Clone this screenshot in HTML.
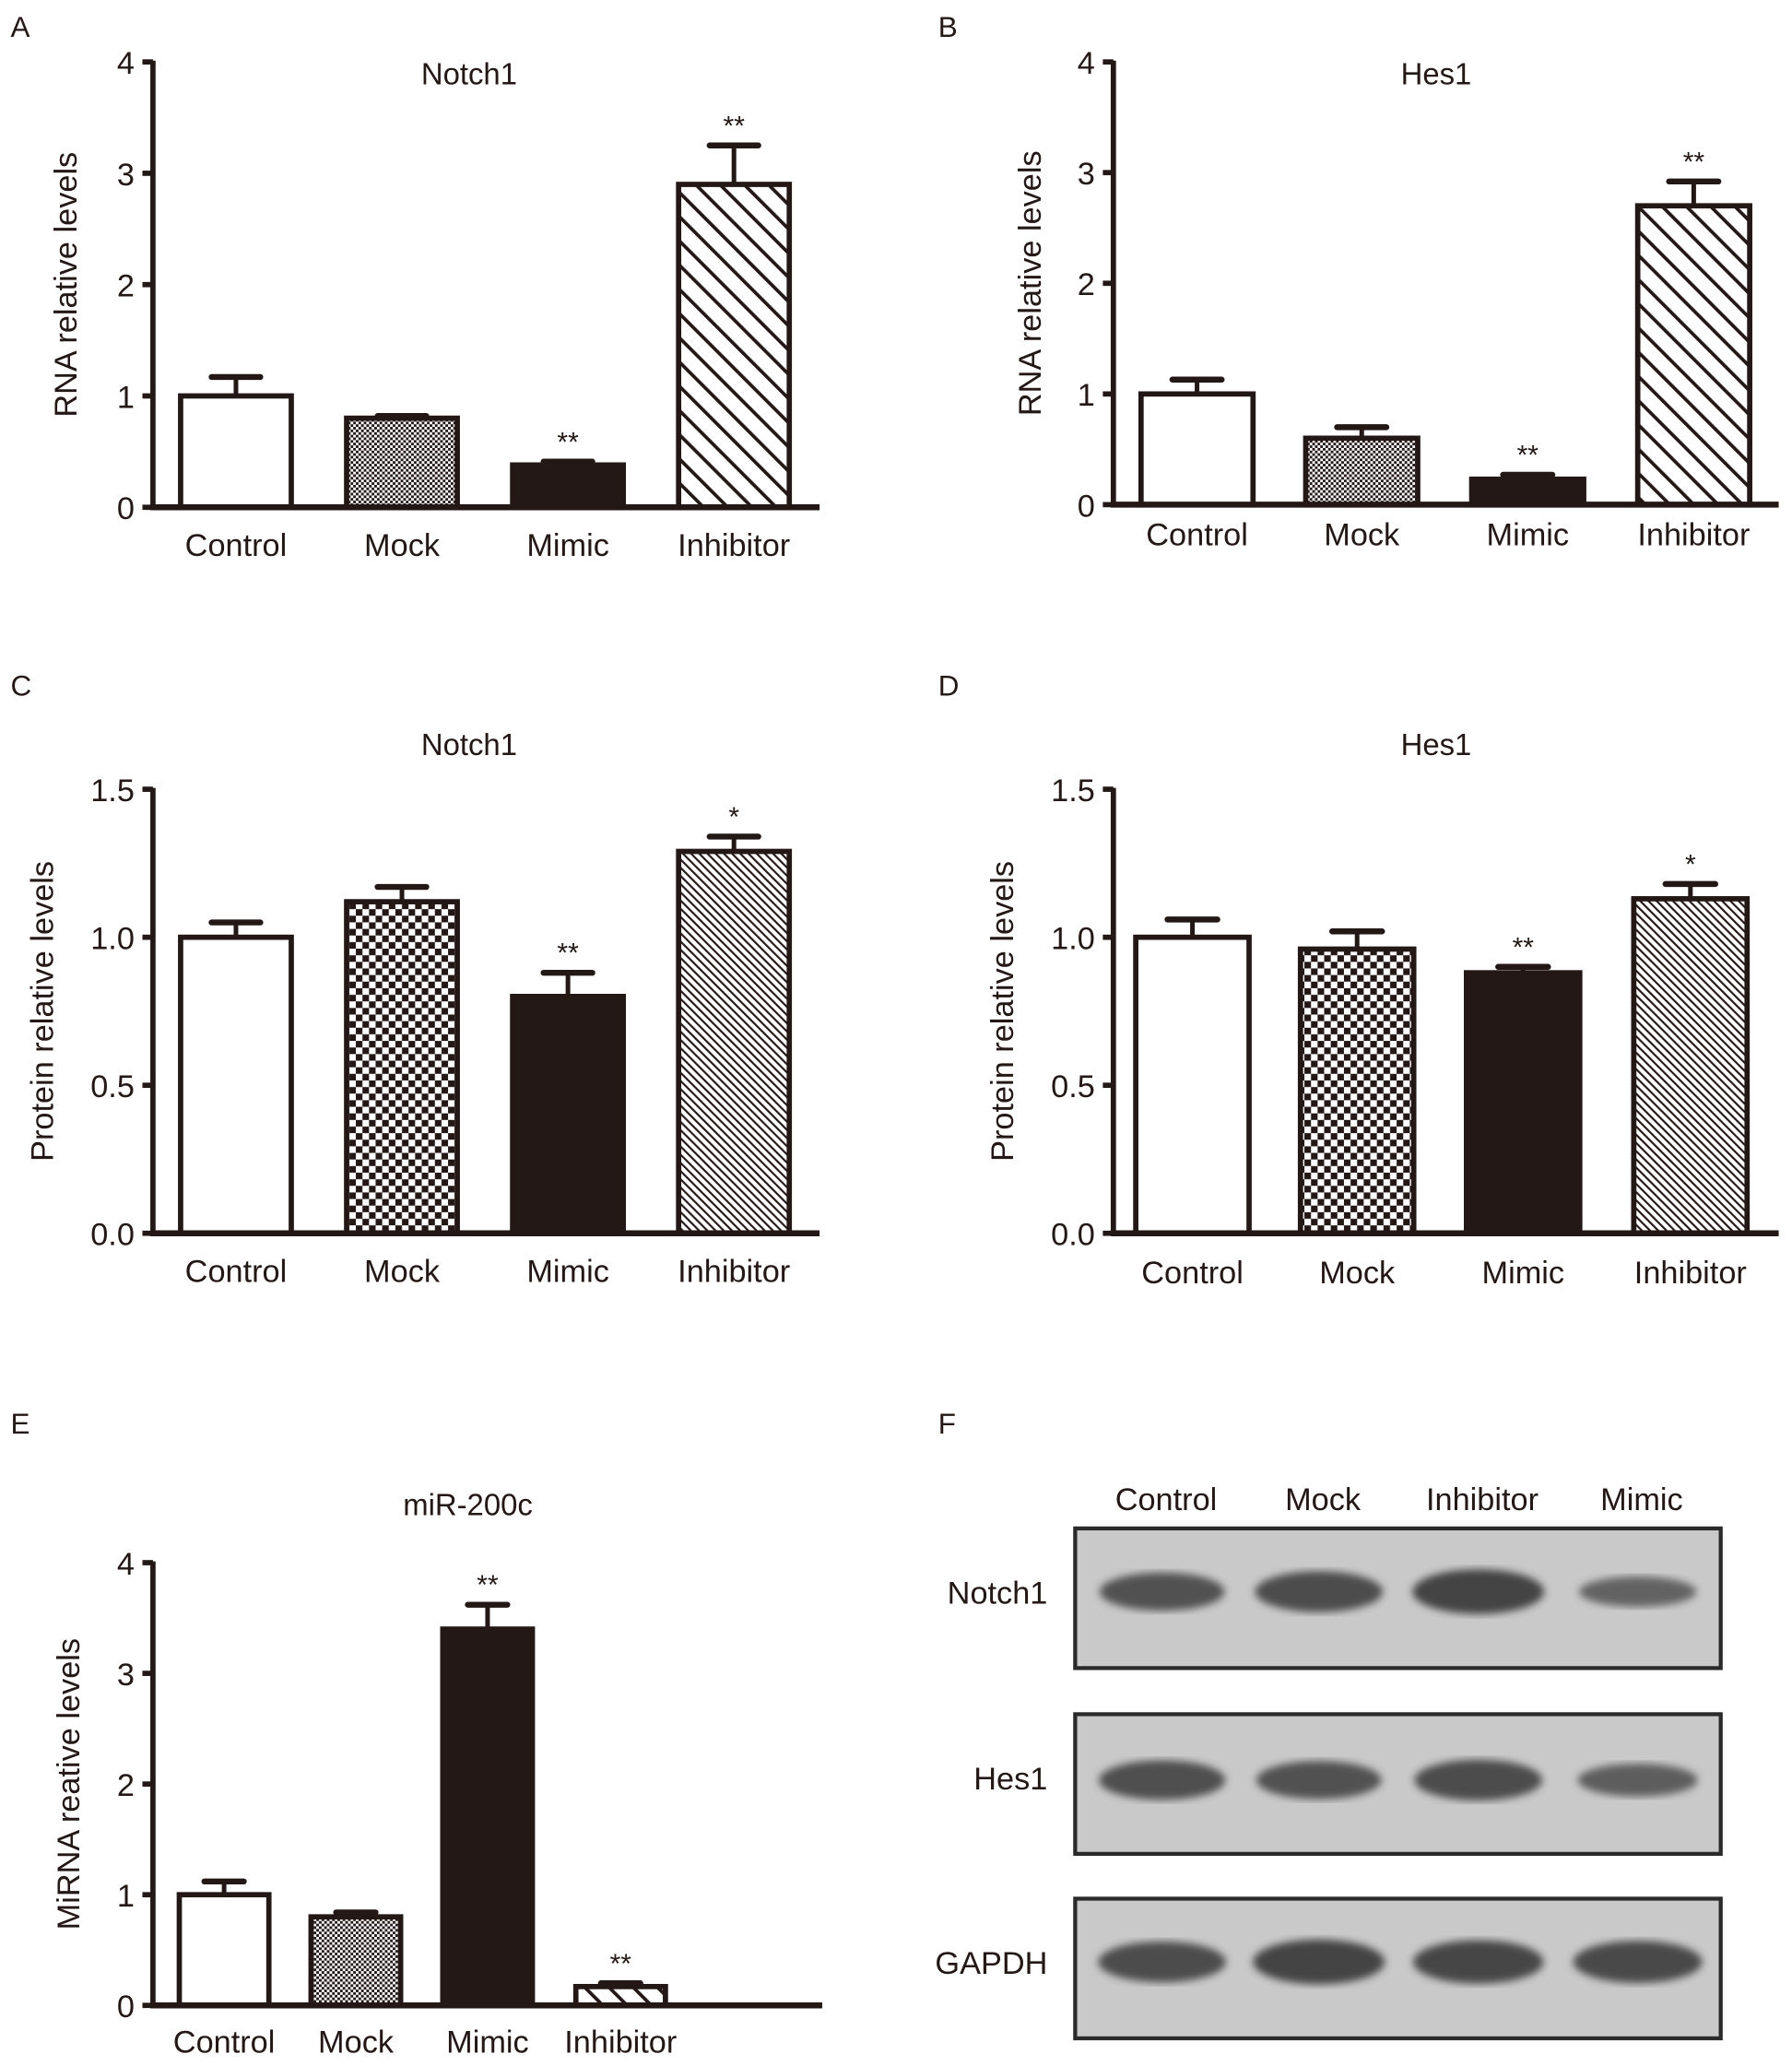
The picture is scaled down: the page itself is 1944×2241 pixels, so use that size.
<!DOCTYPE html>
<html><head><meta charset="utf-8">
<style>
html,body{margin:0;padding:0;background:#fff;}
svg{display:block;}
text{font-family:"Liberation Sans",sans-serif;fill:#231815;}
</style></head>
<body>
<svg id="fig" width="1944" height="2241" viewBox="0 0 1360 1568" xmlns="http://www.w3.org/2000/svg">
<defs>
<pattern id="dots" width="4" height="4" patternUnits="userSpaceOnUse"><rect width="4" height="4" fill="#fff"/><rect width="2" height="2" fill="#231815"/><rect x="2" y="2" width="2" height="2" fill="#231815"/></pattern>
<pattern id="checker" width="10" height="10" patternUnits="userSpaceOnUse"><rect width="10" height="10" fill="#fff"/><rect width="5" height="5" fill="#231815"/><rect x="5" y="5" width="5" height="5" fill="#231815"/></pattern>
<pattern id="hatchBig" width="13" height="13" patternUnits="userSpaceOnUse" patternTransform="rotate(-45)"><rect width="13" height="13" fill="#fff"/><rect width="2.6" height="13" fill="#231815"/></pattern>
<pattern id="hatchFine" width="4.4" height="4.4" patternUnits="userSpaceOnUse" patternTransform="rotate(-45)"><rect width="4.4" height="4.4" fill="#fff"/><rect width="1.5" height="4.4" fill="#231815"/></pattern>
<filter id="blur"><feGaussianBlur stdDeviation="3"/></filter>
</defs>
<g id="charts"></g>
<g id="blot">
<text x="712" y="1088" font-size="22">F</text>
</g>
</svg>
<script>
const NS="http://www.w3.org/2000/svg";
const categories=["Control","Mock","Mimic","Inhibitor"];
const aValues=[1.0,0.8,0.38,2.9];
const aErrors=[0.17,0.02,0.03,0.35];
const aStars=["","","**","**"];
const bValues=[1.0,0.6,0.23,2.7];
const bErrors=[0.13,0.1,0.04,0.22];
const bStars=["","","**","**"];
const cValues=[1.0,1.12,0.8,1.29];
const cErrors=[0.05,0.05,0.08,0.05];
const cStars=["","","**","*"];
const dValues=[1.0,0.96,0.88,1.13];
const dErrors=[0.06,0.06,0.02,0.05];
const dStars=["","","**","*"];
const eValues=[1.0,0.8,3.4,0.17];
const eErrors=[0.12,0.04,0.22,0.03];
const eStars=["","","**","**"];
const rnaTicks=["0","1","2","3","4"];
const protTicks=["0.0","0.5","1.0","1.5"];
const blotLanes=["Control","Mock","Inhibitor","Mimic"];
const blotRows=["Notch1","Hes1","GAPDH"];
const notchBand=[0.75,0.85,1.0,0.45];
const hesBand=[0.8,0.75,0.85,0.55];
const gapdhBand=[0.85,1.0,0.95,0.9];

const root=document.getElementById('charts');
function mk(tag,attrs,parent){const e=document.createElementNS(NS,tag);for(const k in attrs)e.setAttribute(k,attrs[k]);(parent||root).appendChild(e);return e;}

function panel(cfg){
  const g=mk('g',{});
  
  
  const yMin=0,yMax=cfg.yMax;
  const ys=v=>cfg.y0-(v-yMin)/(yMax-yMin)*(cfg.y0-cfg.y1);
  const lab=mk('text',{x:cfg.lx,y:cfg.ly,'font-size':22},g);lab.textContent=cfg.letter;
  
  
  const t=mk('text',{x:cfg.tx,y:cfg.ty,'font-size':23,'text-anchor':'middle'},g);t.textContent=cfg.title;
  
  
  const yt=mk('text',{x:0,y:0,'font-size':24,'text-anchor':'middle',transform:`translate(${cfg.ytx},${(cfg.y0+cfg.y1)/2}) rotate(-90)`},g);yt.textContent=cfg.ytitle;
  
  
  cfg.ticks.forEach(tk=>{
    const v=parseFloat(tk),y=ys(v);
    const l=mk('line',{x1:cfg.ax-8,x2:cfg.ax,y1:y,y2:y,stroke:'#231815','stroke-width':4},g);
    
    
    const tx=mk('text',{x:cfg.ax-14,y:y+9,'font-size':24,'text-anchor':'end'},g);tx.textContent=tk;
    
    
  });
  cfg.values.forEach((v,i)=>{
    const x=cfg.bx[i],w=cfg.bw;
    const cx=x+w/2, ytop=ys(v), yerr=ys(v+cfg.errors[i]);
    const eb=mk('line',{x1:cx,x2:cx,y1:ytop,y2:yerr,stroke:'#231815','stroke-width':3.5},g);
    
    
    const cap=mk('line',{x1:cx-w*0.22,x2:cx+w*0.22,y1:yerr,y2:yerr,stroke:'#231815','stroke-width':4.5,'stroke-linecap':'round'},g);
    
    
    const r=mk('rect',{x:x,y:ytop,width:w,height:cfg.y0-ytop,fill:cfg.fills[i],stroke:'#231815','stroke-width':4},g);
    
    
    if(cfg.stars[i]){const s=mk('text',{x:cx,y:yerr-8,'font-size':21,'text-anchor':'middle'},g);s.textContent=cfg.stars[i];
      
      }
    const cl=mk('text',{x:cx,y:cfg.cly,'font-size':24,'text-anchor':'middle'},g);cl.textContent=categories[i];
    
    
  });
  const ya=mk('line',{x1:cfg.ax,x2:cfg.ax,y1:cfg.y1-1,y2:cfg.y0+2,stroke:'#231815','stroke-width':4},g);
  
  
  const xa=mk('line',{x1:cfg.ax-2,x2:cfg.xEnd,y1:cfg.y0,y2:cfg.y0,stroke:'#231815','stroke-width':4.5},g);
  
  
}
const dark='#231815';
panel({name:'panel-a-notch1-rna',letter:'A',lx:8,ly:28,title:'Notch1',tx:356,ty:64,ytitle:'RNA relative levels',ytx:58,
  ax:116,y0:385,y1:47,yMax:4,xEnd:622,ticks:rnaTicks,values:aValues,errors:aErrors,stars:aStars,
  bx:[137,263,389,515],bw:84,cly:422,fills:['#fff','url(#dots)',dark,'url(#hatchBig)']});
panel({name:'panel-b-hes1-rna',letter:'B',lx:712,ly:28,title:'Hes1',tx:1090,ty:64,ytitle:'RNA relative levels',ytx:790,
  ax:845,y0:383,y1:47,yMax:4,xEnd:1350,ticks:rnaTicks,values:bValues,errors:bErrors,stars:bStars,
  bx:[866,991,1117,1243],bw:85,cly:414,fills:['#fff','url(#dots)',dark,'url(#hatchBig)']});
panel({name:'panel-c-notch1-protein',letter:'C',lx:8,ly:528,title:'Notch1',tx:356,ty:573,ytitle:'Protein relative levels',ytx:40,
  ax:116,y0:936,y1:599,yMax:1.5,xEnd:622,ticks:protTicks,values:cValues,errors:cErrors,stars:cStars,
  bx:[137,263,389,515],bw:84,cly:973,fills:['#fff','url(#checker)',dark,'url(#hatchFine)']});
panel({name:'panel-d-hes1-protein',letter:'D',lx:712,ly:528,title:'Hes1',tx:1090,ty:573,ytitle:'Protein relative levels',ytx:769,
  ax:845,y0:936,y1:599,yMax:1.5,xEnd:1350,ticks:protTicks,values:dValues,errors:dErrors,stars:dStars,
  bx:[862,987,1113,1240],bw:86,cly:974,fills:['#fff','url(#checker)',dark,'url(#hatchFine)']});
panel({name:'panel-e-mir200c',letter:'E',lx:8,ly:1088,title:'miR-200c',tx:355,ty:1150,ytitle:'MiRNA reative levels',ytx:60,
  ax:116,y0:1522,y1:1186,yMax:4,xEnd:624,ticks:rnaTicks,values:eValues,errors:eErrors,stars:eStars,
  bx:[136,236,336,437],bw:68,cly:1558,fills:['#fff','url(#dots)',dark,'url(#hatchBig)']});

// western blot
const blot=document.getElementById('blot');
const laneX=[885,1004,1125,1246];
blotLanes.forEach((l,i)=>{const t=mk('text',{x:laneX[i],y:1146,'font-size':24,'text-anchor':'middle'},blot);t.textContent=l;
  
  });
const boxY=[1160,1301,1441];
const bands=[notchBand,hesBand,gapdhBand];
const bandOff=[48,50,48];
blotRows.forEach((r,k)=>{
  const y=boxY[k];
  const box=mk('rect',{x:816,y:y,width:490,height:106,fill:'#c9c9c9',stroke:'#2a2a2a','stroke-width':3},blot);
  
  
  bands[k].forEach((s,i)=>{
    const b=mk('ellipse',{cx:laneX[i]-3,cy:y+bandOff[k],rx:40+10*s,ry:7+10*s,fill:'#3e3e3e',opacity:0.55+0.4*s,filter:'url(#blur)'},blot);
    
    
  });
  const t=mk('text',{x:795,y:y+57,'font-size':24,'text-anchor':'end'},blot);t.textContent=r;
  
  
});
</script>
</body></html>
